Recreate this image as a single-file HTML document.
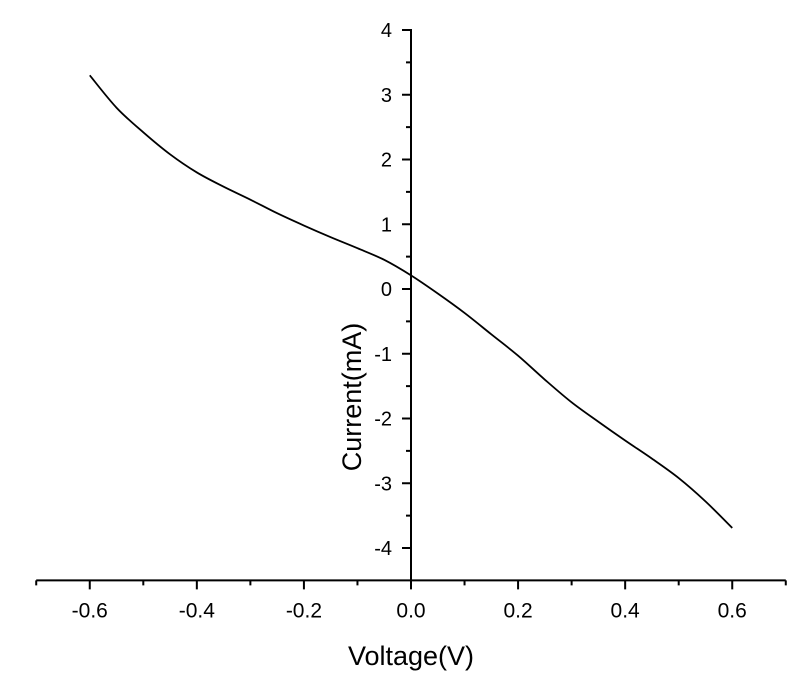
<!DOCTYPE html>
<html><head><meta charset="utf-8"><style>
html,body{margin:0;padding:0;background:#fff}
svg{display:block}
text{font-family:"Liberation Sans",Arial,sans-serif;fill:#000}
</style></head><body>
<svg id="chart" width="800" height="678" viewBox="0 0 800 678" xmlns="http://www.w3.org/2000/svg">
<g id="axes"></g>
<path id="curve" fill="none" stroke="#000" stroke-width="1.8"/>
<text x="411" y="665" font-size="27" text-anchor="middle">Voltage(V)</text>
<text transform="translate(361,397) rotate(-90)" font-size="27" text-anchor="middle">Current(mA)</text>
</svg>
<script>
const voltage = [-0.6,-0.55,-0.5,-0.45,-0.4,-0.35,-0.3,-0.25,-0.2,-0.15,-0.1,-0.05,0,0.05,0.1,0.15,0.2,0.25,0.3,0.35,0.4,0.45,0.5,0.55,0.6];
const current = [3.3,2.8,2.42,2.08,1.8,1.58,1.38,1.17,0.98,0.8,0.63,0.45,0.21,-0.07,-0.37,-0.7,-1.03,-1.4,-1.75,-2.05,-2.34,-2.62,-2.92,-3.28,-3.69];
const xTicks = [-0.6,-0.4,-0.2,0.0,0.2,0.4,0.6];
const xTickLabels = ["-0.6","-0.4","-0.2","0.0","0.2","0.4","0.6"];
const yTicks = [-4,-3,-2,-1,0,1,2,3,4];
const yTickLabels = ["-4","-3","-2","-1","0","1","2","3","4"];
const NS="http://www.w3.org/2000/svg";
function xs(v){return 411+(v)*535.4;}
function ys(v){return 289-v*64.75;}
const g=document.getElementById('axes');
function mk(tag,attrs){const e=document.createElementNS(NS,tag);for(const k in attrs)e.setAttribute(k,attrs[k]);g.appendChild(e);return e;}
let l=mk('line',{x1:xs(-0.7),x2:xs(0.7),y1:ys(-4.5),y2:ys(-4.5),stroke:'#000','stroke-width':2});


l=mk('line',{x1:xs(0),x2:xs(0),y1:ys(4)-1,y2:ys(-4.5),stroke:'#000','stroke-width':2});


for(let i=-7;i<=7;i++){const v=i/10;const major=(i%2===0);
 const t=mk('line',{x1:xs(v),x2:xs(v),y1:ys(-4.5),y2:ys(-4.5)+(major?9:5),stroke:'#000','stroke-width':2});
 
 }
xTicks.forEach((v,i)=>{const t=mk('text',{x:xs(v),y:ys(-4.5)+37,'font-size':21,'text-anchor':'middle'});t.textContent=xTickLabels[i];
 
 });
for(let i=-8;i<=8;i++){const v=i/2;const major=(i%2===0);
 const t=mk('line',{x1:xs(0)-(major?9:5),x2:xs(0),y1:ys(v),y2:ys(v),stroke:'#000','stroke-width':2});
 
 }
yTicks.forEach((v,i)=>{const t=mk('text',{x:xs(0)-19,y:ys(v)+7,'font-size':20,'text-anchor':'end'});t.textContent=yTickLabels[i];
 
 });
const pts=voltage.map((v,i)=>[xs(v),ys(current[i])]);
let d='M'+pts[0][0]+','+pts[0][1];
for(let i=0;i<pts.length-1;i++){const p0=pts[Math.max(0,i-1)],p1=pts[i],p2=pts[i+1],p3=pts[Math.min(pts.length-1,i+2)];
 d+=' C'+(p1[0]+(p2[0]-p0[0])/6)+','+(p1[1]+(p2[1]-p0[1])/6)+' '+(p2[0]-(p3[0]-p1[0])/6)+','+(p2[1]-(p3[1]-p1[1])/6)+' '+p2[0]+','+p2[1];}
document.getElementById('curve').setAttribute('d',d);
</script>
</body></html>
